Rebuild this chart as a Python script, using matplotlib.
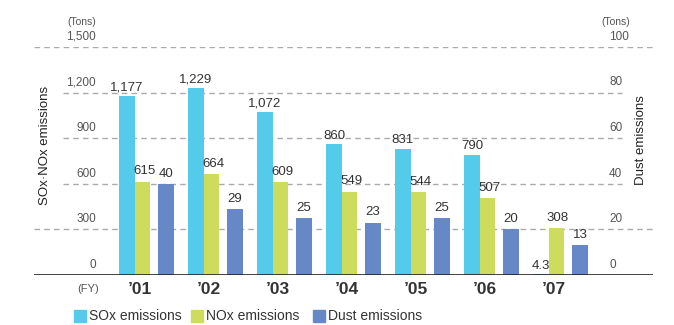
import numpy as np
import matplotlib
matplotlib.use('Agg')
import matplotlib.pyplot as plt
from matplotlib.patches import Rectangle

plt.rcParams['font.family'] = ['Liberation Sans', 'DejaVu Sans']

years = ["’01", "’02", "’03", "’04", "’05", "’06", "’07"]
sox = [1177, 1229, 1072, 860, 831, 790, 4.3]
nox = [615, 664, 609, 549, 544, 507, 308]
dust = [40, 29, 25, 23, 25, 20, 13]
sox_labels = ['1,177', '1,229', '1,072', '860', '831', '790', '4.3']
left_ticks = [0, 300, 600, 900, 1200, 1500]
left_tick_labels = ['0', '300', '600', '900', '1,200', '1,500']
right_ticks = [0, 20, 40, 60, 80, 100]

c_sox = '#55CBEB'
c_nox = '#CDDC5C'
c_dust = '#6688C6'
grid_c = '#AAAAAA'
txt_c = '#333333'
tick_c = '#555555'

fig = plt.figure(figsize=(6.74, 3.25), dpi=100)
# axes spans x 34..653 px, y 47 (1500) .. 275 (0) px
ax = fig.add_axes([34 / 674, 50 / 325, 619 / 674, 228 / 325])
ax2 = ax.twinx()
ax.set_zorder(ax2.get_zorder() + 1)
ax.patch.set_visible(False)

px = 69.0  # pixels per category
ax.set_xlim(-106 / px, 513 / px)
ax.set_ylim(0, 1500)
ax2.set_ylim(0, 100)

for a in (ax, ax2):
    for s in a.spines.values():
        s.set_visible(False)
    a.set_xticks([])
    a.set_yticks([])


def xd(p):
    return (p - 140) / px


# gridlines
for v in left_ticks[1:]:
    if v in (300, 1500):
        xa, xb = xd(34), xd(653)
    else:
        xa, xb = xd(63), xd(622)
    ax.plot([xa, xb], [v, v], color=grid_c, lw=1, ls=(0, (4, 3)), zorder=0)
ax.plot([xd(34), xd(654)], [0, 0], color='#222222', lw=1.2, zorder=3)

x = np.arange(len(years))
w = 16 / px
ax.bar(x - 13 / px, sox, w, color=c_sox, zorder=2)
ax.bar(x + 2.5 / px, nox, w * 0.95, color=c_nox, zorder=2)
ax.bar(x + 26 / px, [d * 15 for d in dust], w, color=c_dust, zorder=2)

for i in range(len(years)):
    ax.annotate(sox_labels[i], (x[i] - 13 / px, sox[i]), xytext=(0, 2),
                textcoords='offset points', ha='center', va='bottom',
                fontsize=9.5, color=txt_c)
    ax.annotate(str(nox[i]), (x[i] + 4 / px, nox[i]), xytext=(0, 3),
                textcoords='offset points', ha='center', va='bottom',
                fontsize=9.5, color=txt_c)
    ax.annotate(str(dust[i]), (x[i] + 26 / px, dust[i] * 15), xytext=(0, 3),
                textcoords='offset points', ha='center', va='bottom',
                fontsize=9.5, color=txt_c)
    ax.text(x[i], -14 * 6.58, years[i], ha='center', va='center',
            fontsize=12.5, fontweight='bold', color=txt_c)

# tick labels
for v, lab in zip(left_ticks, left_tick_labels):
    ax.annotate(lab, (xd(96), v), xytext=(0, 3), textcoords='offset points',
                ha='right', va='bottom', fontsize=8.5, color=tick_c)
for v in right_ticks:
    ax.annotate(str(v), (xd(609), v * 15), xytext=(0, 3), textcoords='offset points',
                ha='left', va='bottom', fontsize=8.5, color=tick_c)

fig.text(96 / 674, 1 - 22 / 325, '(Tons)', ha='right', va='center', fontsize=7.5, color=tick_c)
fig.text(630 / 674, 1 - 22 / 325, '(Tons)', ha='right', va='center', fontsize=7.5, color=tick_c)
fig.text(99 / 674, 1 - 289 / 325, '(FY)', ha='right', va='center', fontsize=8, color=tick_c)

fig.text(45 / 674, 1 - 145 / 325, 'SOx·NOx emissions', rotation=90, ha='center', va='center',
         fontsize=9.5, color='#222222')
fig.text(641 / 674, 1 - 140 / 325, 'Dust emissions', rotation=90, ha='center', va='center',
         fontsize=9.5, color='#222222')

# legend
legend_items = [('SOx emissions', c_sox, 74), ('NOx emissions', c_nox, 191), ('Dust emissions', c_dust, 313)]
for lab, col, lx in legend_items:
    fig.patches.append(Rectangle((lx / 674, 1 - 322 / 325), 12 / 674, 12 / 325,
                                 transform=fig.transFigure, color=col, figure=fig))
    fig.text((lx + 15) / 674, 1 - 316 / 325, lab, ha='left', va='center',
             fontsize=10, color=txt_c)

fig.savefig('out.png', dpi=100)
